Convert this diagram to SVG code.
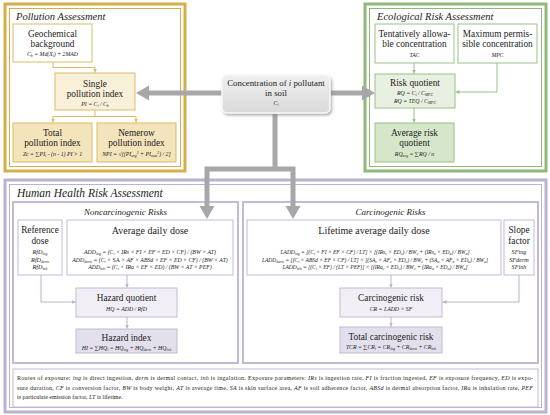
<svg xmlns="http://www.w3.org/2000/svg" width="550" height="415" viewBox="0 0 550 415">
<style>
text{font-family:"Liberation Serif","DejaVu Serif",serif;fill:#222;text-anchor:middle}
.ft{font-style:italic;font-size:10.5px;text-anchor:start}
.hh{font-style:italic;font-size:11.5px;text-anchor:start}
.sub{font-style:italic;font-size:9px}
.t{font-size:9.3px}
.t2{font-size:10px}
.f{font-style:italic;font-size:5.8px}
.fl{font-style:italic;font-size:5.5px}
.fs{font-style:italic;font-size:6.2px}
.s{font-size:3.8px;baseline-shift:-1.2px}
.sp{font-size:3.8px;baseline-shift:2.4px}
.n{font-style:normal}
.fn{font-size:6px;text-anchor:start}
.i{font-style:italic}
.ygo{fill:none;stroke:#d6ae48;stroke-width:3}
.ygi{fill:none;stroke:#d6ae48;stroke-width:1}
.ybox{stroke:#d9bc66;stroke-width:1}
.gro{fill:none;stroke:#8fb87b;stroke-width:3}
.gri{fill:none;stroke:#8fb87b;stroke-width:1}
.gbox{stroke:#9bc088;stroke-width:1}
.pro{fill:none;stroke:#bcb1cf;stroke-width:3}
.pri{fill:none;stroke:#bcb1cf;stroke-width:1}
.psub{fill:none;stroke:#c4bad5;stroke-width:2}
.pbox{stroke:#c4bad5;stroke-width:1}
.cy{fill:none;stroke:#d9bc66;stroke-width:1}
.cg{fill:none;stroke:#9bc088;stroke-width:1}
.cp{fill:none;stroke:#bdb2cf;stroke-width:1}
.big{fill:none;stroke:#a7a7a7;stroke-width:5}
.bah{fill:#a7a7a7}
</style>
<defs>
<marker id="ay" viewBox="0 0 6 6" refX="6" refY="3" markerWidth="4" markerHeight="4" orient="auto"><path d="M0,0L6,3L0,6z" fill="#d9bc66"/></marker>
<marker id="ag" viewBox="0 0 6 6" refX="6" refY="3" markerWidth="4" markerHeight="4" orient="auto"><path d="M0,0L6,3L0,6z" fill="#9bc088"/></marker>
<marker id="ap" viewBox="0 0 6 6" refX="6" refY="3" markerWidth="4" markerHeight="4" orient="auto"><path d="M0,0L6,3L0,6z" fill="#bdb2cf"/></marker>
<linearGradient id="cg" x1="0" y1="0" x2="0" y2="1"><stop offset="0" stop-color="#efefef"/><stop offset="1" stop-color="#dadada"/></linearGradient>
<filter id="sh" x="-10%" y="-10%" width="130%" height="140%"><feDropShadow dx="1.5" dy="2" stdDeviation="1.2" flood-color="#888" flood-opacity="0.6"/></filter>
</defs>

<!-- Pollution Assessment -->
<g id="pollution-assessment">
<rect x="5" y="4" width="180" height="167" fill="#fff" class="ygo"/>
<rect x="9.5" y="8.5" width="171" height="158" class="ygi"/>
<text x="16" y="20" class="ft">Pollution Assessment</text>
</g>
<g id="geochemical-background">
<rect x="13" y="24" width="79" height="38" fill="#fff" class="ybox"/>
<text x="52.5" y="37" class="t">Geochemical</text>
<text x="52.5" y="47" class="t">background</text>
<text x="52.5" y="56" class="f">C<tspan class="s">b</tspan> = Md(X<tspan class="s">i</tspan>) + 2MAD</text>
</g>
<g id="single-pollution-index">
<rect x="55" y="73" width="80" height="37" fill="#f9f0da" class="ybox"/>
<text x="95" y="87" class="t">Single</text>
<text x="95" y="97" class="t">pollution index</text>
<text x="95" y="106" class="f">PI = C<tspan class="s">i</tspan> / C<tspan class="s">b</tspan></text>
</g>
<g id="total-pollution-index">
<rect x="13" y="123" width="79" height="39" fill="#f3e4bb" class="ybox"/>
<text x="52.5" y="136" class="t">Total</text>
<text x="52.5" y="146" class="t">pollution index</text>
<text x="52.5" y="156" class="f">Zc = ∑PI<tspan class="s">i</tspan> - (n - 1)    PI &gt; 1</text>
</g>
<g id="nemerow-pollution-index">
<rect x="97" y="123" width="79" height="39" fill="#f3e4bb" class="ybox"/>
<text x="136.5" y="136" class="t">Nemerow</text>
<text x="136.5" y="146" class="t">pollution index</text>
<text x="136.5" y="156" class="f">NPI = √[(PI<tspan class="s">avg</tspan><tspan class="sp">2</tspan> + PI<tspan class="s">max</tspan><tspan class="sp">2</tspan>) / 2]</text>
</g>

<!-- Ecological Risk Assessment -->
<g id="ecological-risk-assessment">
<rect x="365" y="4" width="181" height="167" fill="#fff" class="gro"/>
<rect x="369.5" y="8.5" width="172" height="158" class="gri"/>
<text x="377" y="20" class="ft">Ecological Risk Assessment</text>
</g>
<g id="tac">
<rect x="375" y="24" width="79" height="39" fill="#fff" class="gbox"/>
<text x="414.5" y="37" class="t">Tentatively allowa-</text>
<text x="414.5" y="47" class="t">ble concentration</text>
<text x="414.5" y="57" class="f">TAC</text>
</g>
<g id="mpc">
<rect x="458" y="24" width="79" height="39" fill="#fff" class="gbox"/>
<text x="497.5" y="37" class="t">Maximum permis-</text>
<text x="497.5" y="47" class="t">sible concentration</text>
<text x="497.5" y="57" class="f">MPC</text>
</g>
<g id="risk-quotient">
<rect x="375" y="74" width="80" height="34" fill="#e8f0e1" class="gbox"/>
<text x="415" y="86" class="t">Risk quotient</text>
<text x="415" y="95" class="f">RQ = C<tspan class="s">i</tspan> / C<tspan class="s">MPC</tspan></text>
<text x="415" y="103" class="f">RQ = TEQ / C<tspan class="s">MPC</tspan></text>
</g>
<g id="average-risk-quotient">
<rect x="375" y="123" width="79" height="39" fill="#d6e6cb" class="gbox"/>
<text x="414.5" y="136" class="t">Average risk</text>
<text x="414.5" y="146" class="t">quotient</text>
<text x="414.5" y="156" class="f">RQ<tspan class="s">avg</tspan> = ∑RQ / n</text>
</g>

<!-- Human Health Risk Assessment -->
<g id="human-health-risk-assessment">
<rect x="5" y="180" width="541" height="232" fill="#fff" class="pro"/>
<rect x="9.5" y="184.5" width="532" height="223" class="pri"/>
<text x="17" y="197" class="hh">Human Health Risk Assessment</text>
</g>
<g id="noncarcinogenic-risks">
<rect x="13" y="202" width="225" height="161" class="psub"/>
<text x="125.5" y="215" class="sub">Noncarcinogenic Risks</text>
</g>
<g id="carcinogenic-risks">
<rect x="243" y="202" width="295" height="161" class="psub"/>
<text x="390.5" y="215" class="sub">Carcinogenic Risks</text>
</g>
<g id="reference-dose">
<rect x="18" y="220" width="44" height="55" fill="#fff" class="pbox"/>
<text x="40" y="233" class="t">Reference</text>
<text x="40" y="244" class="t">dose</text>
<text x="40" y="254" class="fs">RfD<tspan class="s">ing</tspan></text>
<text x="40" y="261.5" class="fs">RfD<tspan class="s">derm</tspan></text>
<text x="40" y="269" class="fs">RfD<tspan class="s">inh</tspan></text>
</g>
<g id="average-daily-dose">
<rect x="67" y="220" width="166" height="55" fill="#fff" class="pbox"/>
<text x="150" y="234" class="t2">Average daily dose</text>
<text x="150" y="254" class="f">ADD<tspan class="s">ing</tspan> = (C<tspan class="s">i</tspan> × IRs × FI × EF × ED × CF) / (BW × AT)</text>
<text x="150" y="261.5" class="f">ADD<tspan class="s">derm</tspan> = (C<tspan class="s">i</tspan> × <tspan class="n">SA</tspan> × AF × ABSd × EF × ED × CF) / (BW × AT)</text>
<text x="150" y="269" class="f">ADD<tspan class="s">inh</tspan> = (C<tspan class="s">i</tspan> × IRa × EF × ED) / (BW × AT × PEF)</text>
</g>
<g id="hazard-quotient">
<rect x="76" y="288" width="101" height="29" fill="#f1eef5" class="pbox"/>
<text x="126.5" y="301" class="t">Hazard quotient</text>
<text x="126.5" y="311" class="f">HQ = ADD / RfD</text>
</g>
<g id="hazard-index">
<rect x="76" y="329" width="101" height="24" fill="#e4dfec" class="pbox"/>
<text x="126.5" y="341" class="t">Hazard index</text>
<text x="126.5" y="349.5" class="f">HI = ∑HQ<tspan class="s">i</tspan> = HQ<tspan class="s">ing</tspan> + HQ<tspan class="s">derm</tspan> + HQ<tspan class="s">inh</tspan></text>
</g>
<g id="lifetime-average-daily-dose">
<rect x="247" y="220" width="254" height="55" fill="#fff" class="pbox"/>
<text x="374" y="234" class="t2">Lifetime average daily dose</text>
<text x="375" y="254" class="fl">LADD<tspan class="s">ing</tspan> = [(C<tspan class="s">i</tspan> × FI × EF × CF) / LT] × [(IRs<tspan class="s">c</tspan> × ED<tspan class="s">c</tspan>) / BW<tspan class="s">c</tspan> + (IRs<tspan class="s">a</tspan> × ED<tspan class="s">a</tspan>) / BW<tspan class="s">a</tspan>]</text>
<text x="375" y="261.5" class="fl">LADD<tspan class="s">derm</tspan> = [(C<tspan class="s">i</tspan> × ABSd × EF × CF) / LT] × [(SA<tspan class="s">c</tspan> × AF<tspan class="s">c</tspan> × ED<tspan class="s">c</tspan>) / BW<tspan class="s">c</tspan> + (SA<tspan class="s">a</tspan> × AF<tspan class="s">a</tspan> × ED<tspan class="s">a</tspan>) / BW<tspan class="s">a</tspan>]</text>
<text x="375" y="269" class="fl">LADD<tspan class="s">inh</tspan> = [(C<tspan class="s">i</tspan> × EF) / (LT × PEF)] × [(IRa<tspan class="s">c</tspan> × ED<tspan class="s">c</tspan>) / BW<tspan class="s">c</tspan> + (IRa<tspan class="s">a</tspan> × ED<tspan class="s">a</tspan>) / BW<tspan class="s">a</tspan>]</text>
</g>
<g id="slope-factor">
<rect x="504" y="220" width="30" height="55" fill="#fff" class="pbox"/>
<text x="519" y="233" class="t">Slope</text>
<text x="519" y="244" class="t">factor</text>
<text x="519" y="254" class="fs">SFing</text>
<text x="519" y="261.5" class="fs">SFderm</text>
<text x="519" y="269" class="fs">SFinh</text>
</g>
<g id="carcinogenic-risk">
<rect x="340" y="288" width="102" height="29" fill="#f1eef5" class="pbox"/>
<text x="391" y="301" class="t">Carcinogenic risk</text>
<text x="391" y="311" class="f">CR = LADD × SF</text>
</g>
<g id="total-carcinogenic-risk">
<rect x="340" y="327" width="102" height="26" fill="#e4dfec" class="pbox"/>
<text x="391" y="340" class="t">Total carcinogenic risk</text>
<text x="391" y="349" class="f">TCR = ∑CR<tspan class="s">i</tspan> = CR<tspan class="s">ing</tspan> + CR<tspan class="s">derm</tspan> + CR<tspan class="s">inh</tspan></text>
</g>
<g id="footnote">
<rect x="13" y="369" width="525" height="38" fill="#fff" class="pbox"/>
<text x="17" y="380" class="fn" textLength="516" lengthAdjust="spacing">Routes of exposure: <tspan class="i">ing</tspan> is direct ingestion, <tspan class="i">derm</tspan> is dermal contact, <tspan class="i">inh</tspan> is ingalation. Exposure parameters: <tspan class="i">IRs</tspan> is ingestion rate, <tspan class="i">FI</tspan> is fraction ingested, <tspan class="i">EF</tspan> is exposure frequency, <tspan class="i">ED</tspan> is expo-</text>
<text x="17" y="389.5" class="fn" textLength="516" lengthAdjust="spacing">sure duration, <tspan class="i">CF</tspan> is conversion factor, <tspan class="i">BW</tspan> is body weight, <tspan class="i">AT</tspan> is average time, <tspan class="i">SA</tspan> is skin surface area, <tspan class="i">AF</tspan> is soil adherence factor, <tspan class="i">ABSd</tspan> is dermal absorption factor, <tspan class="i">IRa</tspan> is inhalation rate, <tspan class="i">PEF</tspan></text>
<text x="17" y="399" class="fn">is particulate emission factor, <tspan class="i">LT</tspan> is lifetime.</text>
</g>

<!-- Connectors -->
<g id="connectors">
<path class="cy" d="M53,62V67.5H95V72.5" marker-end="url(#ay)"/>
<path class="cy" d="M95,110V116.5H53V122.5" marker-end="url(#ay)"/>
<path class="cy" d="M95,116.5H136V122.5" marker-end="url(#ay)"/>
<path class="cg" d="M414,63V73.5" marker-end="url(#ag)"/>
<path class="cg" d="M497,63V92H455.5" marker-end="url(#ag)"/>
<path class="cg" d="M414,108V122.5" marker-end="url(#ag)"/>
<path class="cp" d="M127,275V287.5" marker-end="url(#ap)"/>
<path class="cp" d="M41,275V302H75.5" marker-end="url(#ap)"/>
<path class="cp" d="M127,317V328.5" marker-end="url(#ap)"/>
<path class="cp" d="M391,275V287.5" marker-end="url(#ap)"/>
<path class="cp" d="M519,275V302H442.5" marker-end="url(#ap)"/>
<path class="cp" d="M391,317V326.5" marker-end="url(#ap)"/>
<path class="big" d="M222,93H148"/>
<polygon class="bah" points="136,93 149,85.5 149,100.5"/>
<path class="big" d="M330,93H363"/>
<polygon class="bah" points="375,93 362,85.5 362,100.5"/>
<path class="big" d="M275,113V169M207,169H293M207,166.5V207M293,166.5V207"/>
<polygon class="bah" points="199.5,206 214.5,206 207,219"/>
<polygon class="bah" points="285.5,206 300.5,206 293,219"/>
</g>

<g id="concentration">
<rect x="222" y="75" width="108" height="38" rx="5" fill="url(#cg)" stroke="#f8f8f8" stroke-width="1.5" filter="url(#sh)"/>
<text x="276" y="86" class="t" style="font-size:8.8px">Concentration of <tspan class="i">i</tspan> pollutant</text>
<text x="276" y="95.5" class="t" style="font-size:8.8px">in soil</text>
<text x="276" y="105" class="f">C<tspan class="s">i</tspan></text>
</g>
</svg>
